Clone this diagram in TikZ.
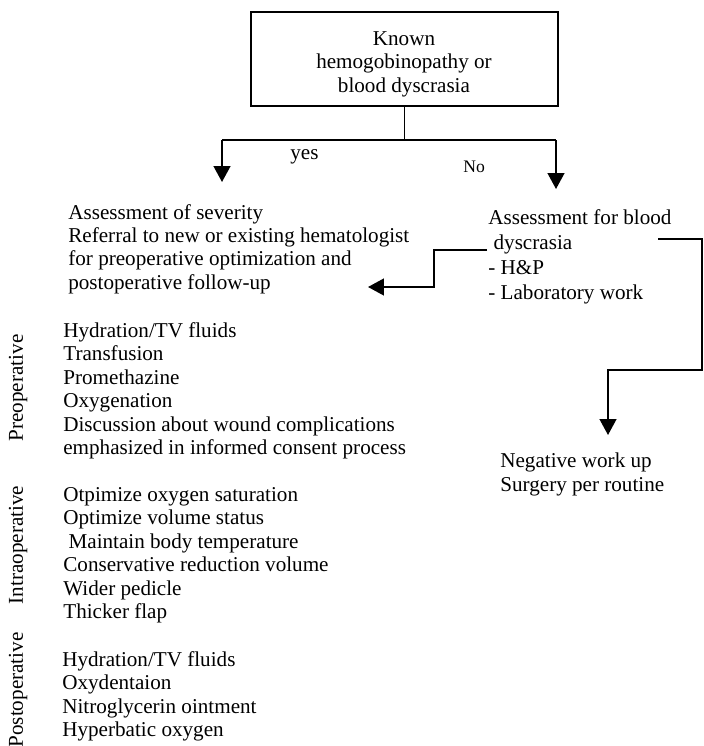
\documentclass[tikz,border=0pt]{standalone}
\usepackage{fontspec}
\setmainfont{Liberation Serif}
\usetikzlibrary{arrows.meta}
\newcommand{\txtl}[1]{\begin{tabular}[t]{@{}l@{}}#1\end{tabular}}
\newcommand{\txtc}[1]{\begin{tabular}[t]{@{}c@{}}#1\end{tabular}}
\begin{document}
\begin{tikzpicture}[x=0.568pt,y=-0.568pt,
  txt/.style={inner sep=0pt, anchor=base west, font=\fontsize{12}{13.4}\selectfont},
  boxnode/.style={draw, line width=0.8pt, inner sep=0pt, minimum width=174.4pt, minimum height=53.4pt},
  conn/.style={line width=1pt},
  arr/.style={conn, -{Triangle[length=9pt,width=9.5pt]}},
  side/.style={inner sep=0pt, rotate=90, anchor=base, font=\fontsize{12}{13.4}\selectfont}
]
\useasboundingbox (0,0) rectangle (704,746);

% top box
\node[boxnode] (known) at (404.5,59) {};
\node[txt, anchor=base, font=\fontsize{12}{13.6}\selectfont] (knowntxt) at (404,45)
  {\txtc{Known\\hemogobinopathy or\\blood dyscrasia}};

% branch labels
\node[txt] (yes) at (290,159) {yes};
\node[txt, font=\fontsize{10}{12}\selectfont] (no) at (463,172) {No};

% left top block
\node[txt, font=\fontsize{12}{13.3}\selectfont] (sev) at (68,219)
  {\txtl{Assessment of severity\\Referral to new or existing hematologist\\for preoperative optimization and\\postoperative follow-up}};

% right block
\node[txt, font=\fontsize{12}{14.2}\selectfont] (rassess) at (488,224)
  {\txtl{Assessment for blood\\\ dyscrasia\\- H\&P\\- Laboratory work}};

\node[txt, font=\fontsize{12}{13.9}\selectfont] (neg) at (500,467)
  {\txtl{Negative work up\\Surgery per routine}};

% lists
\node[txt] (prelist) at (63,337)
  {\txtl{Hydration/TV fluids\\Transfusion\\Promethazine\\Oxygenation\\Discussion about wound complications\\emphasized in informed consent process}};
\node[txt] (intralist) at (63,501)
  {\txtl{Otpimize oxygen saturation\\Optimize volume status\\\ Maintain body temperature\\Conservative reduction volume\\Wider pedicle\\Thicker flap}};
\node[txt] (postlist) at (62,666)
  {\txtl{Hydration/TV fluids\\Oxydentaion\\Nitroglycerin ointment\\Hyperbatic oxygen}};

% side labels
\node[side] (pre) at (23,388) {Preoperative};
\node[side] (intra) at (23,545) {Intraoperative};
\node[side] (post) at (23,690) {Postoperative};

% connectors from the top box
\coordinate (jl) at (222,140);
\coordinate (jr) at (556,140);
\coordinate (stem) at (known.south |- jl);
\coordinate (tipl) at (222,182);
\coordinate (tipr) at (556,189);
\draw[conn] (known.south) -- (stem);
\draw[conn] (jl) -- (jr);
\draw[arr] (jl) -- (tipl);
\draw[arr] (jr) -- (tipr);

% left elbow
\coordinate (e1) at (487,250);
\coordinate (e2) at (434,287);
\coordinate (tipsev) at (368,287);
\draw[arr] (e1) -| (e2) -- (tipsev);

% right elbow
\coordinate (r1) at (658,239);
\coordinate (r2) at (702,370);
\coordinate (tipneg) at (608,435);
\draw[arr] (r1) -| (r2) -| (tipneg);
\end{tikzpicture}
\end{document}
